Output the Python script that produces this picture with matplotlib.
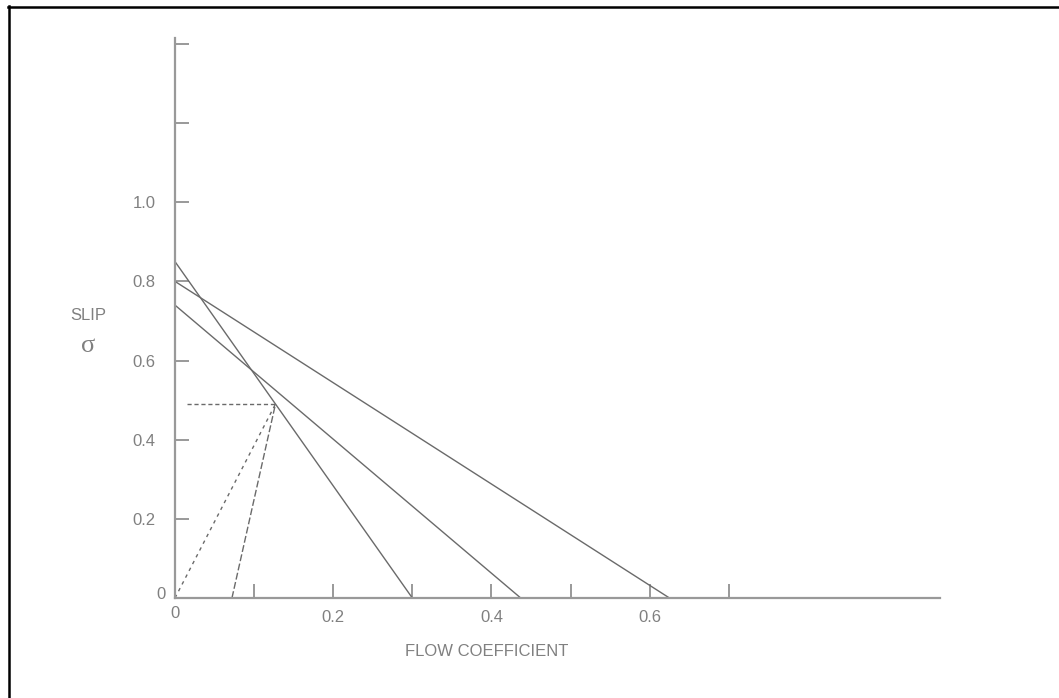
import numpy as np
import matplotlib
matplotlib.use("Agg")
import matplotlib.pyplot as plt
from matplotlib.lines import Line2D
import matplotlib.transforms as mtransforms

# slip lines (flow coefficient, slip)
line_a_x = [0.0, 0.30]
line_a_y = [0.85, 0.0]
line_b_x = [0.0, 0.625]
line_b_y = [0.80, 0.0]
line_c_x = [0.0, 0.437]
line_c_y = [0.74, 0.0]

# dashed construction lines
hdash_x = [0.015, 0.127]
hdash_y = [0.49, 0.49]
diag1_x = [0.0, 0.127]
diag1_y = [0.0, 0.49]
diag2_x = [0.072, 0.127]
diag2_y = [0.0, 0.49]

x_ticks = [0.0, 0.1, 0.2, 0.3, 0.4, 0.5, 0.6, 0.7]
x_labels = ['0', '', '0.2', '', '0.4', '', '0.6', '']
y_ticks = [0.0, 0.2, 0.4, 0.6, 0.8, 1.0, 1.2, 1.4]
y_labels = ['0', '0.2', '0.4', '0.6', '0.8', '1.0', '', '']

W, H = 1059, 698
plt.rcParams['font.family'] = ['Liberation Sans', 'DejaVu Sans']

fig = plt.figure(figsize=(W / 100, H / 100), dpi=100)
ax = fig.add_axes([175 / W, 1 - 598 / H, 765 / W, 560 / H])

axis_col = '#999999'
line_col = '#6a6a6a'
text_col = '#808080'

ax.plot(line_a_x, line_a_y, color=line_col, lw=1.0)
ax.plot(line_b_x, line_b_y, color=line_col, lw=1.0)
ax.plot(line_c_x, line_c_y, color=line_col, lw=1.0)
ax.plot(hdash_x, hdash_y, color=line_col, lw=1.0, dashes=(3, 2))
ax.plot(diag1_x, diag1_y, color=line_col, lw=1.0, dashes=(2.5, 3))
ax.plot(diag2_x, diag2_y, color=line_col, lw=1.0, dashes=(5, 1.8))

ax.set_xlim(0, 0.967)
ax.set_ylim(0, 1.415)
for s in ['top', 'right']:
    ax.spines[s].set_visible(False)
for s in ['left', 'bottom']:
    ax.spines[s].set_color(axis_col)
    ax.spines[s].set_linewidth(1.6)

ax.set_xticks(x_ticks)
ax.set_xticklabels(x_labels)
ax.set_yticks(y_ticks)
ax.set_yticklabels(y_labels)
ax.tick_params(axis='both', direction='in', length=10, width=1.4, color=axis_col,
               labelcolor=text_col, labelsize=12)
ax.tick_params(axis='x', pad=9)
ax.tick_params(axis='y', pad=14)

# the "0" labels sit closer to the origin
ylab0 = ax.get_yticklabels()[0]
ylab0.set_transform(ylab0.get_transform() + mtransforms.ScaledTranslation(10 / 100, 5 / 100, fig.dpi_scale_trans))
xlab0 = ax.get_xticklabels()[0]
xlab0.set_transform(xlab0.get_transform() + mtransforms.ScaledTranslation(0, 5 / 100, fig.dpi_scale_trans))

fig.text(487 / W, 1 - 651 / H, 'FLOW COEFFICIENT', ha='center', va='center',
         color=text_col, fontsize=12)
fig.text(88 / W, 1 - 315 / H, 'SLIP', ha='center', va='center',
         color=text_col, fontsize=12)
fig.text(88 / W, 1 - 346 / H, 'σ', ha='center', va='center',
         color=text_col, fontsize=19, family='Liberation Serif')

# page frame (top and left edges)
fig.add_artist(Line2D([8 / W, 1.0], [1 - 6.5 / H, 1 - 6.5 / H], color='black', lw=1.8,
                      transform=fig.transFigure))
fig.add_artist(Line2D([9 / W, 9 / W], [0.0, 1 - 6 / H], color='black', lw=1.8,
                      transform=fig.transFigure))

fig.savefig('out.png', dpi=100)
